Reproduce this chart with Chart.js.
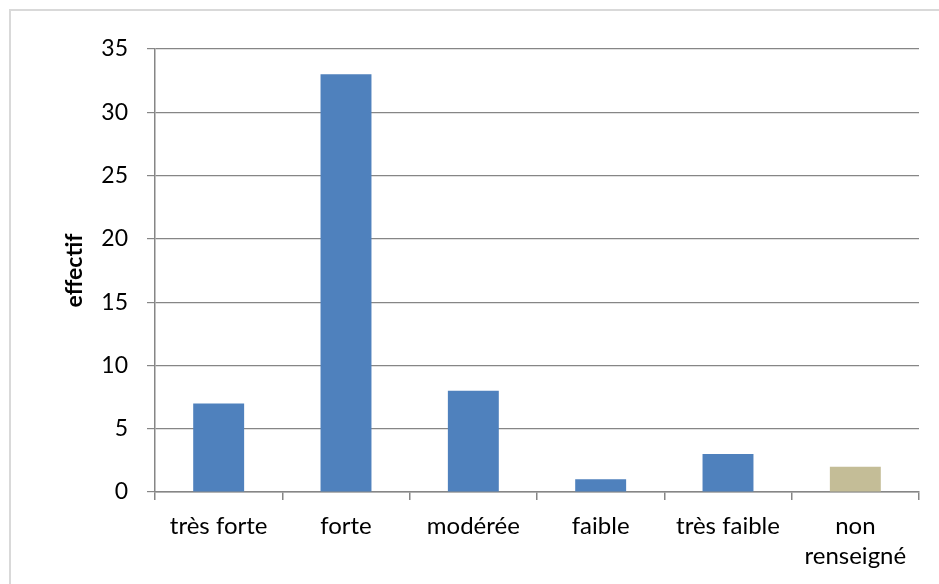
<!DOCTYPE html>
<html>
<head>
<meta charset="utf-8">
<script src="https://cdn.jsdelivr.net/npm/chart.js@4"></script>
<style>
html,body{margin:0;padding:0;background:#fff;}
#wrap{position:relative;width:939px;height:584px;}
</style>
</head>
<body>
<div id="wrap"><canvas id="c" width="939" height="584"></canvas></div>
<script>
const categories = ["très forte", "forte", "modérée", "faible", "très faible", ["non", "renseigné"]];
const values = [7, 33, 8, 1, 3, 2];
const barColors = ["#4F81BD", "#4F81BD", "#4F81BD", "#4F81BD", "#4F81BD", "#C4BD97"];
const yTitle = "effectif";
const yMin = 0, yMax = 35, yStep = 5;

const frame = {
  id: 'frame',
  beforeDraw(chart) {
    const ctx = chart.ctx;
    ctx.save();
    ctx.fillStyle = '#fff';
    ctx.fillRect(0, 0, chart.width, chart.height);
    ctx.strokeStyle = '#D9D9D9';
    ctx.lineWidth = 2;
    ctx.strokeRect(10, 10, 960, 620);
    ctx.restore();
  }
};

new Chart(document.getElementById('c'), {
  type: 'bar',
  data: {
    labels: categories,
    datasets: [{
      data: values,
      backgroundColor: barColors,
      borderWidth: 0,
      categoryPercentage: 1,
      barPercentage: 0.4
    }]
  },
  options: {
    responsive: false,
    animation: false,
    devicePixelRatio: 1,
    layout: { padding: { left: 57, top: 49, right: 20, bottom: 0 } },
    plugins: { legend: { display: false }, tooltip: { enabled: false } },
    scales: {
      x: {
        afterFit(s) { s.height = 92; },
        grid: { display: true, drawOnChartArea: false, drawTicks: true, tickLength: 8, color: '#868686', offset: true, lineWidth: 1.5 },
        border: { color: '#868686', width: 1.5 },
        ticks: { color: '#000', font: { family: 'Lato', size: 24, lineHeight: 1.25 }, padding: 11, maxRotation: 0, autoSkip: false }
      },
      y: {
        min: yMin, max: yMax,
        afterFit(s) { s.width = 98; },
        grid: { color: '#868686', lineWidth: 1.2, tickLength: 8 },
        border: { color: '#868686', width: 1.5 },
        ticks: { stepSize: yStep, color: '#000', font: { family: 'Lato', size: 23 }, padding: 19 },
        title: { display: true, text: yTitle, color: '#000', font: { family: 'Lato', size: 23, weight: 'bold' }, padding: { top: 4, bottom: 0 } }
      }
    }
  },
  plugins: [frame]
});
</script>
</body>
</html>
